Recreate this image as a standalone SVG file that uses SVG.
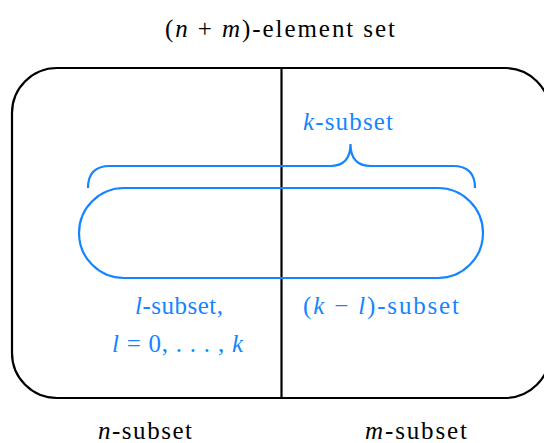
<svg xmlns="http://www.w3.org/2000/svg" width="544" height="443" viewBox="0 0 544 443">
<style>
.blk{fill:none;stroke:#000;stroke-width:2.2}
.blu{fill:none;stroke:#1585ff;stroke-width:2.2}
.t{font-family:'Liberation Serif',serif;font-size:25px}
.b{fill:#1585ff}
.k{fill:#000}
.i{font-style:italic}
</style>
<rect width="544" height="443" fill="#fff"/>
<g id="outer-set"><rect class="blk" x="12" y="68" width="538" height="330" rx="45" ry="45"/></g>
<g id="divider"><line class="blk" x1="281.5" y1="68" x2="281.5" y2="398"/></g>
<g id="connectors">
<path id="brace" class="blu" d="M88,188 Q88,166 110,166 L330,166 Q350.5,166 350.5,144 Q350.5,166 371,166 L453,166 Q475,166 475,188"/>
</g>
<g id="pill"><rect class="blu" x="79" y="188" width="404" height="90" rx="45" ry="45"/></g>
<g id="labels">
<text class="t k" x="165" y="37" textLength="230" lengthAdjust="spacing">(<tspan class="i">n</tspan> + <tspan class="i">m</tspan>)-element set</text>
<text class="t b" x="303" y="130" textLength="90" lengthAdjust="spacing"><tspan class="i">k</tspan>-subset</text>
<text class="t b" x="135" y="314" textLength="88" lengthAdjust="spacing"><tspan class="i">l</tspan>-subset,</text>
<text class="t b" x="112" y="352" textLength="131" lengthAdjust="spacing"><tspan class="i">l</tspan> = 0, . . . , <tspan class="i">k</tspan></text>
<text class="t b" x="303" y="314" textLength="156" lengthAdjust="spacing">(<tspan class="i">k</tspan> − <tspan class="i">l</tspan>)-subset</text>
<text class="t k" x="98" y="439" textLength="94" lengthAdjust="spacing"><tspan class="i">n</tspan>-subset</text>
<text class="t k" x="365" y="439" textLength="102" lengthAdjust="spacing"><tspan class="i">m</tspan>-subset</text>
</g>
</svg>
